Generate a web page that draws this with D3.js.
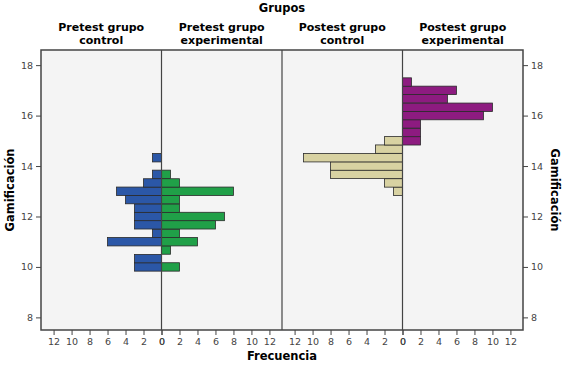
<!DOCTYPE html>
<html>
<head>
<meta charset="utf-8">
<script src="https://cdn.jsdelivr.net/npm/d3@7"></script>
<style>
  body { margin: 0; background: #fff; }
  svg text { font-family: "DejaVu Sans", Verdana, sans-serif; }
</style>
</head>
<body>
<svg id="chart"></svg>
<script>
// bin centres (Gamificación), bin width 1/3
const gamificacion = [10.00, 10.33, 10.67, 11.00, 11.33, 11.67, 12.00, 12.33, 12.67, 13.00, 13.33, 13.67,
  14.00, 14.33, 14.67, 15.00, 15.33, 15.67, 16.00, 16.33, 16.67, 17.00, 17.33];

const pretestControl      = [3, 3, 0, 6, 1, 3, 3, 3, 4, 5, 2, 1, 0, 1, 0, 0, 0, 0, 0, 0, 0, 0, 0];
const pretestExperimental = [2, 0, 1, 4, 2, 6, 7, 2, 2, 8, 2, 1, 0, 0, 0, 0, 0, 0, 0, 0, 0, 0, 0];
const postestControl      = [0, 0, 0, 0, 0, 0, 0, 0, 0, 1, 2, 8, 8, 11, 3, 2, 0, 0, 0, 0, 0, 0, 0];
const postestExperimental = [0, 0, 0, 0, 0, 0, 0, 0, 0, 0, 0, 0, 0, 0, 0, 2, 2, 2, 9, 10, 5, 6, 1];

const groups = [
  { title: ["Pretest grupo", "control"], values: pretestControl, color: "#2b57a7", side: "left" },
  { title: ["Pretest grupo", "experimental"], values: pretestExperimental, color: "#20a048", side: "right" },
  { title: ["Postest grupo", "control"], values: postestControl, color: "#d8d2a2", side: "left" },
  { title: ["Postest grupo", "experimental"], values: postestExperimental, color: "#8d1b80", side: "right" }
];

const yTicks = [8, 10, 12, 14, 16, 18];
const xTicks = [0, 2, 4, 6, 8, 10, 12];

const width = 565, height = 365;
const margin = { top: 50, right: 42, bottom: 35, left: 41 };
const plotW = width - margin.left - margin.right;
const halfW = plotW / 4;
const binW = 1 / 3;

const svg = d3.select("#chart").attr("width", width).attr("height", height);

const y = d3.scaleLinear().domain([7.5, 18.6]).range([height - margin.bottom, margin.top]);

// frame background
svg.append("rect")
  .attr("x", margin.left).attr("y", margin.top)
  .attr("width", plotW).attr("height", height - margin.top - margin.bottom)
  .attr("fill", "#f4f4f4");

groups.forEach((g, i) => {
  const x0 = margin.left + i * halfW;
  const zero = g.side === "left" ? x0 + halfW : x0;
  const x = d3.scaleLinear().domain([0, 13.4])
    .range(g.side === "left" ? [zero, zero - halfW] : [zero, zero + halfW]);

  const data = gamificacion.map((v, j) => ({ v, n: g.values[j] })).filter(d => d.n > 0);

  svg.append("g").selectAll("rect")
    .data(data)
    .enter().append("rect")
    .attr("x", d => Math.min(x(0), x(d.n)))
    .attr("y", d => y(d.v + binW / 2))
    .attr("width", d => Math.abs(x(d.n) - x(0)))
    .attr("height", d => y(d.v - binW / 2) - y(d.v + binW / 2))
    .attr("fill", g.color)
    .attr("stroke", "#2a2a2a")
    .attr("stroke-width", 0.8);

  const xAxis = d3.axisBottom(x).tickValues(xTicks).tickSize(5).tickPadding(3);
  const ax = svg.append("g")
    .attr("transform", `translate(0,${height - margin.bottom})`)
    .call(xAxis);
  ax.select(".domain").remove();
  ax.selectAll("line").attr("stroke", "#444");
  ax.selectAll("text").attr("fill", "#444").style("font-size", "9.5px");

  const cx = x0 + halfW / 2;
  svg.append("text")
    .attr("x", cx).attr("y", 31)
    .attr("text-anchor", "middle")
    .style("font-weight", "bold").style("font-size", "11px")
    .selectAll("tspan")
    .data(g.title)
    .enter().append("tspan")
    .attr("x", cx).attr("dy", (d, k) => k === 0 ? 0 : 13)
    .text(d => d);
});

// zero lines and divider
[1, 2, 3].forEach(k => {
  svg.append("line")
    .attr("x1", margin.left + k * halfW).attr("x2", margin.left + k * halfW)
    .attr("y1", margin.top).attr("y2", height - margin.bottom)
    .attr("stroke", "#444").attr("stroke-width", 1.2);
});

// frame
svg.append("rect")
  .attr("x", margin.left).attr("y", margin.top)
  .attr("width", plotW).attr("height", height - margin.top - margin.bottom)
  .attr("fill", "none").attr("stroke", "#444").attr("stroke-width", 1.5);

const yLeft = svg.append("g")
  .attr("transform", `translate(${margin.left},0)`)
  .call(d3.axisLeft(y).tickValues(yTicks).tickSize(5).tickPadding(3));
const yRight = svg.append("g")
  .attr("transform", `translate(${width - margin.right},0)`)
  .call(d3.axisRight(y).tickValues(yTicks).tickSize(5).tickPadding(3));
[yLeft, yRight].forEach(a => {
  a.select(".domain").remove();
  a.selectAll("line").attr("stroke", "#444");
  a.selectAll("text").attr("fill", "#444").style("font-size", "9.5px");
});

svg.append("text")
  .attr("x", margin.left + plotW / 2).attr("y", 12)
  .attr("text-anchor", "middle")
  .style("font-weight", "bold").style("font-size", "11.5px")
  .text("Grupos");

svg.append("text")
  .attr("x", margin.left + plotW / 2).attr("y", 360)
  .attr("text-anchor", "middle")
  .style("font-weight", "bold").style("font-size", "11.5px")
  .text("Frecuencia");

const yMid = (margin.top + height - margin.bottom) / 2;
svg.append("text")
  .attr("transform", `translate(14,${yMid}) rotate(-90)`)
  .attr("text-anchor", "middle")
  .style("font-weight", "bold").style("font-size", "11.5px")
  .text("Gamificación");

svg.append("text")
  .attr("transform", `translate(551,${yMid}) rotate(90)`)
  .attr("text-anchor", "middle")
  .style("font-weight", "bold").style("font-size", "11.5px")
  .text("Gamificación");
</script>
</body>
</html>
